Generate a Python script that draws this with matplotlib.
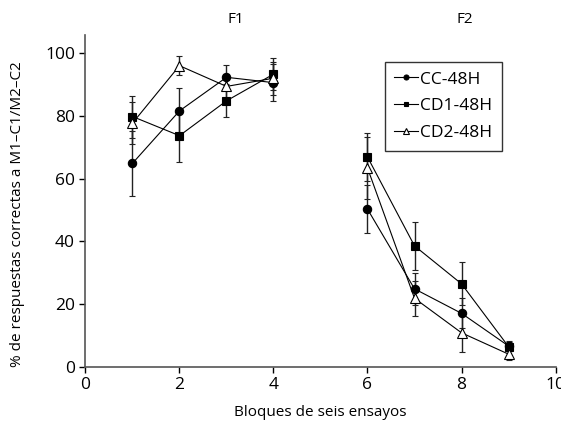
import matplotlib.pyplot as plt

plt.rcParams['font.family'] = ['Open Sans', 'DejaVu Sans']

# bloques (F1: 1-4, F2: 6-9)
blocks_f1 = [1, 2, 3, 4]
blocks_f2 = [6, 7, 8, 9]

cc_f1 = [64.9, 81.6, 92.3, 90.6]
cc_f1_err = [10.4, 7.2, 4.0, 6.0]
cc_f2 = [50.3, 24.9, 17.1, 6.7]
cc_f2_err = [7.7, 5.0, 4.8, 1.5]

cd1_f1 = [79.8, 73.7, 84.8, 93.3]
cd1_f1_err = [6.7, 8.5, 5.3, 5.0]
cd1_f2 = [66.9, 38.6, 26.5, 6.5]
cd1_f2_err = [7.5, 7.7, 6.9, 1.5]

cd2_f1 = [77.7, 96.0, 89.4, 92.0]
cd2_f1_err = [6.7, 3.0, 4.0, 5.3]
cd2_f2 = [63.4, 21.9, 10.9, 4.1]
cd2_f2_err = [10.0, 5.5, 6.0, 2.0]

series = [
    ('CC-48H', 'o', 'black', 6, cc_f1, cc_f1_err, cc_f2, cc_f2_err),
    ('CD1-48H', 's', 'black', 5.5, cd1_f1, cd1_f1_err, cd1_f2, cd1_f2_err),
    ('CD2-48H', '^', 'white', 6.5, cd2_f1, cd2_f1_err, cd2_f2, cd2_f2_err),
]

fig = plt.figure(figsize=(5.61, 4.26), dpi=100)
ax = fig.add_axes([0.1524, 0.1385, 0.8378, 0.7795])

for name, mk, fc, ms, f1, e1, f2, e2 in series:
    for xs, ys, es, lab in ((blocks_f1, f1, e1, name), (blocks_f2, f2, e2, None)):
        ax.errorbar(xs, ys, yerr=es, color='black', ecolor='#222222',
                    elinewidth=1.0, capsize=2.5, capthick=1.0,
                    linewidth=0.8, marker=mk, markersize=ms,
                    markerfacecolor=fc, markeredgecolor='black',
                    markeredgewidth=0.8, label=lab)

ax.set_xlim(0, 10)
ax.set_ylim(0, 105.8)
ax.set_xticks([0, 2, 4, 6, 8, 10])
ax.set_yticks([0, 20, 40, 60, 80, 100])
ax.tick_params(direction='out', length=4, width=1, labelsize=12.5, color='black')
for side in ('top', 'right'):
    ax.spines[side].set_visible(False)
for side in ('left', 'bottom'):
    ax.spines[side].set_color('#555555')
    ax.spines[side].set_linewidth(1.2)
ax.patch.set_alpha(0)

ax.set_xlabel('Bloques de seis ensayos', fontsize=11, labelpad=8)
ax.set_ylabel('% de respuestas correctas a M1\u2013C1/M2\u2013C2', fontsize=11)
ax.yaxis.set_label_coords(-0.128, 0.46)

ax.text(3.2, 1.025, 'F1', transform=ax.get_xaxis_transform(), ha='center', va='bottom', fontsize=11)
ax.text(8.07, 1.025, 'F2', transform=ax.get_xaxis_transform(), ha='center', va='bottom', fontsize=11)

handles, labels = ax.get_legend_handles_labels()
handles = [h[0] for h in handles]
leg = ax.legend(handles, labels, loc='upper left', bbox_to_anchor=(0.637, 0.919),
                fontsize=12.5, frameon=True, fancybox=False, edgecolor='black',
                handlelength=1.35, handletextpad=0.15, markerscale=0.6,
                borderpad=0.55, labelspacing=0.62, borderaxespad=0)
leg.get_frame().set_linewidth(1.0)

fig.savefig('out.png', dpi=100)
